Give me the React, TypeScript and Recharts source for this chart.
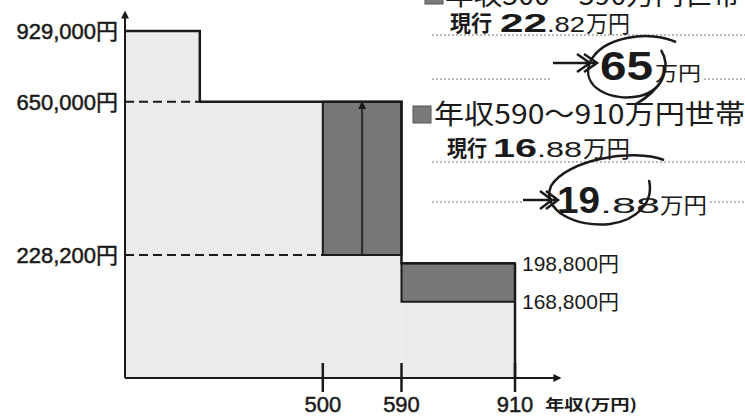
import React from "react";
import {
  ComposedChart,
  Line,
  XAxis,
  YAxis,
  ReferenceArea,
  ReferenceLine,
  ReferenceDot,
} from "recharts";

// 年収 (万円) where the step outline changes; the first edge has no label in the source
const stepIncome = [0, 250, 590, 910];
// 支給額 (円) from each step onwards
const stepAmount = [929000, 650000, 198800, 198800];

// the two bands that change
const bandFrom = [500, 590];
const bandTo = [590, 910];
const currentAmount = [228200, 168800];
const newAmount = [650000, 198800];

const xTicks = [500, 590, 910];
const yTicks = [929000, 650000, 228200];
const rightLabels = [198800, 168800];

const JP = '"Noto Sans CJK JP", sans-serif';
const NUM = '"Liberation Sans", "Noto Sans CJK JP", sans-serif';
const INK = "#1a1a1a";

const stepData = stepIncome.map((income, i) => ({ income, amount: stepAmount[i] }));

// the source is not drawn to scale: a piecewise linear scale, knots -> share of axis length
function schematicScale(knots: number[], stops: number[]) {
  let dom = [knots[0], knots[knots.length - 1]];
  let rng = [0, 1];
  const unit = (v: number) => {
    let i = 0;
    while (i < knots.length - 2 && v > knots[i + 1]) i++;
    const t = (v - knots[i]) / (knots[i + 1] - knots[i]);
    return stops[i] + t * (stops[i + 1] - stops[i]);
  };
  const scale: any = (v: number) => rng[0] + unit(Number(v)) * (rng[rng.length - 1] - rng[0]);
  scale.domain = (d?: number[]) => {
    if (d === undefined) return dom.slice();
    dom = d.slice();
    return scale;
  };
  scale.range = (r?: number[]) => {
    if (r === undefined) return rng.slice();
    rng = r.slice();
    return scale;
  };
  scale.copy = () => schematicScale(knots, stops).domain(dom).range(rng);
  scale.ticks = () => knots.slice();
  scale.tickFormat = () => (v: number) => String(v);
  scale.nice = () => scale;
  scale.clamp = () => scale;
  return scale;
}

const xScale = schematicScale([0, 250, 500, 590, 910, 1000], [0, 0.174, 0.46, 0.643, 0.907, 1]);
const yScale = schematicScale(
  [0, 168800, 198800, 228200, 650000, 929000, 1000000],
  [0, 0.211, 0.318, 0.341, 0.765, 0.961, 1]
);

const yen = (v: number) => v.toLocaleString("en-US") + "円";

const XTick = (props: any) => {
  const { x, y, payload } = props;
  return (
    <g>
      <line x1={x} x2={x} y1={y - 15} y2={y + 14} stroke={INK} strokeWidth={2.5} />
      <text x={x} y={y + 34} textAnchor="middle" fontSize={22} fontFamily={NUM} fill={INK} stroke={INK} strokeWidth={0.5}>
        {payload.value}
      </text>
    </g>
  );
};

const YTick = (props: any) => {
  const { x, y, payload } = props;
  return (
    <text x={x - 7} y={y + 8} textAnchor="end" fontSize={22} fontFamily={NUM} fill={INK} stroke={INK} strokeWidth={0.5}>
      {yen(payload.value)}
    </text>
  );
};

const Notes = () => (
  <svg
    width={745}
    height={417}
    style={{ position: "absolute", left: 0, top: 0, pointerEvents: "none" }}
  >
    <defs>
      <marker id="axEnd" viewBox="0 0 10 10" refX="2" refY="5" markerWidth="4" markerHeight="4" orient="auto" markerUnits="strokeWidth">
        <path d="M0,0 L10,5 L0,10 z" fill={INK} />
      </marker>
      <marker id="axStart" viewBox="0 0 10 10" refX="2" refY="5" markerWidth="4" markerHeight="4" orient="auto-start-reverse" markerUnits="strokeWidth">
        <path d="M0,0 L10,5 L0,10 z" fill={INK} />
      </marker>
      <marker id="barArrow" viewBox="0 0 10 10" refX="9" refY="5" markerWidth="4" markerHeight="4" orient="auto" markerUnits="strokeWidth">
        <path d="M0,0 L10,5 L0,10 z" fill={INK} />
      </marker>
    </defs>

    {/* dotted rules */}
    <g stroke="#777" strokeWidth={1.2} strokeDasharray="2 2">
      <line x1={432} x2={745} y1={35} y2={35} />
      <line x1={432} x2={552} y1={79} y2={79} />
      <line x1={704} x2={745} y1={79} y2={79} />
      <line x1={432} x2={745} y1={162} y2={162} />
      <line x1={432} x2={522} y1={202} y2={202} />
      <line x1={710} x2={745} y1={202} y2={202} />
    </g>

    {/* band 500-590 (cut at the top edge) */}
    <rect x={425} y={-14} width={18} height={18} fill="#7a7a7a" stroke="#555" />
    <text x={445} y={5} fontSize={27} fontFamily={JP} fill={INK} textLength={296} lengthAdjust="spacingAndGlyphs">
      年収500〜590万円世帯
    </text>
    <text x={450} y={31} fontSize={22} fontWeight={700} fontFamily={JP} fill={INK} textLength={42} lengthAdjust="spacingAndGlyphs">現行</text>
    <text x={500} y={32} fontSize={26} fontWeight={700} fontFamily={NUM} fill={INK} textLength={47} lengthAdjust="spacingAndGlyphs">22</text>
    <text x={547} y={32} fontSize={22} fontFamily={NUM} fill={INK} textLength={38} lengthAdjust="spacingAndGlyphs">.82</text>
    <text x={586} y={32} fontSize={23} fontFamily={JP} fill={INK} textLength={44} lengthAdjust="spacingAndGlyphs">万円</text>

    <g stroke={INK} strokeWidth={2.5} fill="none">
      <path d="M553,63 L597,63 M584,54 L597,63 L584,72 M577,54 L590,63 L577,72" />
    </g>
    <text x={600} y={80} fontSize={41} fontWeight={700} fontFamily={NUM} fill={INK} textLength={53} lengthAdjust="spacingAndGlyphs">65</text>
    <text x={655} y={81} fontSize={20} fontFamily={JP} fill={INK} textLength={46} lengthAdjust="spacingAndGlyphs">万円</text>
    <path
      d="M676,42 C650,30 603,36 590,62 C580,88 612,102 640,96 C664,90 671,66 661,50 M662,80 C656,90 648,97 636,104"
      stroke={INK}
      strokeWidth={2.5}
      fill="none"
    />

    {/* band 590-910 */}
    <rect x={413} y={106} width={18} height={17} fill="#7a7a7a" stroke="#555" />
    <text x={434} y={124} fontSize={27} fontFamily={JP} fill={INK} textLength={311} lengthAdjust="spacingAndGlyphs">
      年収590〜910万円世帯
    </text>
    <text x={447} y={156} fontSize={22} fontWeight={700} fontFamily={JP} fill={INK} textLength={40} lengthAdjust="spacingAndGlyphs">現行</text>
    <text x={493} y={157} fontSize={26} fontWeight={700} fontFamily={NUM} fill={INK} textLength={44} lengthAdjust="spacingAndGlyphs">16</text>
    <text x={537} y={157} fontSize={22} fontFamily={NUM} fill={INK} textLength={45} lengthAdjust="spacingAndGlyphs">.88</text>
    <text x={583} y={157} fontSize={23} fontFamily={JP} fill={INK} textLength={47} lengthAdjust="spacingAndGlyphs">万円</text>

    <g stroke={INK} strokeWidth={2.5} fill="none">
      <path d="M523,200 L558,200 M546,191 L558,200 L546,209 M540,191 L552,200 L540,209" />
    </g>
    <text x={557} y={213} fontSize={37} fontWeight={700} fontFamily={NUM} fill={INK} textLength={43} lengthAdjust="spacingAndGlyphs">19</text>
    <text x={600} y={213} fontSize={22} fontFamily={NUM} fill={INK} textLength={60} lengthAdjust="spacingAndGlyphs">.88</text>
    <text x={660} y={213} fontSize={22} fontFamily={JP} fill={INK} textLength={47} lengthAdjust="spacingAndGlyphs">万円</text>
    <path
      d="M664,160 C632,148 566,160 551,186 C541,210 576,228 610,224 C638,220 654,202 649,180"
      stroke={INK}
      strokeWidth={2.5}
      fill="none"
    />

    <text x={545} y={410} fontSize={15} fontWeight={700} fontFamily={JP} fill={INK} textLength={92} lengthAdjust="spacingAndGlyphs">
      年収(万円)
    </text>
  </svg>
);

export default function App() {
  return (
    <div style={{ position: "absolute", left: 0, top: 0, width: 745, height: 417, background: "#fff" }}>
      <ComposedChart
        width={745}
        height={417}
        data={stepData}
        margin={{ top: 17, right: 190, bottom: 0, left: 0 }}
      >
        <XAxis
          type="number"
          dataKey="income"
          domain={[0, 1000]}
          scale={xScale}
          ticks={xTicks}
          interval={0}
          height={39}
          tickSize={0}
          tickMargin={0}
          tickLine={false}
          tick={<XTick />}
          axisLine={{ stroke: INK, strokeWidth: 2, markerEnd: "url(#axEnd)" }}
        />
        <YAxis
          type="number"
          domain={[0, 1000000]}
          scale={yScale}
          ticks={yTicks}
          interval={0}
          width={125}
          tickSize={0}
          tickMargin={0}
          tickLine={false}
          tick={<YTick />}
          axisLine={{ stroke: INK, strokeWidth: 2, markerStart: "url(#axStart)" }}
        />

        {/* light area under the step outline */}
        {stepIncome.slice(0, -1).map((x, i) => (
          <ReferenceArea
            key={"base" + i}
            x1={x}
            x2={stepIncome[i + 1]}
            y1={0}
            y2={stepAmount[i]}
            fill="#ebebeb"
            fillOpacity={1}
            stroke="none"
            ifOverflow="visible"
          />
        ))}

        <ReferenceLine
          segment={[{ x: 0, y: stepAmount[1] }, { x: stepIncome[1], y: stepAmount[1] }]}
          stroke={INK}
          strokeWidth={2}
          strokeDasharray="9 5"
          ifOverflow="visible"
        />
        <ReferenceLine
          segment={[{ x: 0, y: currentAmount[0] }, { x: bandFrom[0], y: currentAmount[0] }]}
          stroke={INK}
          strokeWidth={2}
          strokeDasharray="9 5"
          ifOverflow="visible"
        />

        {/* increase for each band */}
        {bandFrom.map((x, i) => (
          <ReferenceArea
            key={"band" + i}
            x1={x}
            x2={bandTo[i]}
            y1={currentAmount[i]}
            y2={newAmount[i]}
            fill="#777"
            fillOpacity={1}
            stroke={INK}
            strokeWidth={2}
            ifOverflow="visible"
          />
        ))}
        <ReferenceLine
          segment={[
            { x: (bandFrom[0] + bandTo[0]) / 2, y: currentAmount[0] },
            { x: (bandFrom[0] + bandTo[0]) / 2, y: newAmount[0] },
          ]}
          stroke="#2a2a2a"
          strokeWidth={2}
          markerEnd="url(#barArrow)"
          ifOverflow="visible"
        />

        <ReferenceLine
          segment={[{ x: stepIncome[3], y: 0 }, { x: stepIncome[3], y: stepAmount[3] }]}
          stroke={INK}
          strokeWidth={2.5}
          ifOverflow="visible"
        />
        <Line
          type="stepAfter"
          dataKey="amount"
          stroke={INK}
          strokeWidth={2.5}
          dot={false}
          activeDot={false}
          isAnimationActive={false}
        />

        {rightLabels.map((v) => (
          <ReferenceDot
            key={v}
            x={bandTo[1]}
            y={v}
            r={0}
            stroke="none"
            fill="none"
            label={{ value: yen(v), position: "right", offset: 7, fontSize: 21, fill: INK, fontFamily: NUM }}
          />
        ))}
      </ComposedChart>
      <Notes />
    </div>
  );
}
